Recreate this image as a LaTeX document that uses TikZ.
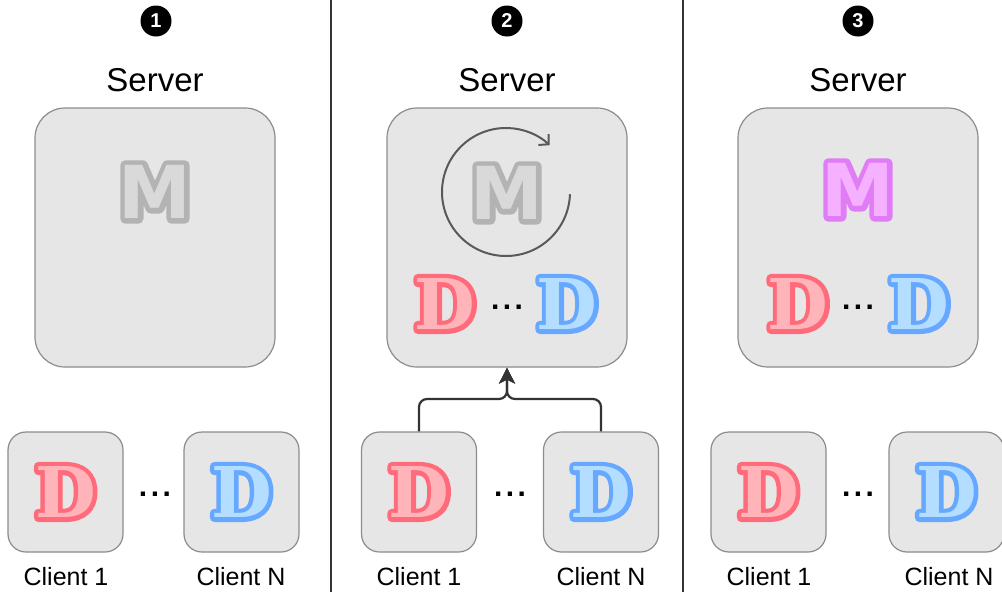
\documentclass[tikz,border=0pt]{standalone}
\usepackage{fontspec}
\setmainfont{Liberation Sans}
\newfontfamily\MfontF{DejaVu Sans}
\newfontfamily\MfontS{DejaVu Sans}[BoldFeatures={FakeBold=14}]
\newfontfamily\DfontF{DejaVu Serif}
\newfontfamily\DfontS{DejaVu Serif}[BoldFeatures={FakeBold=13}]
\usetikzlibrary{arrows.meta}
\definecolor{boxF}{HTML}{E6E6E6}
\definecolor{boxS}{HTML}{8C8C8C}
\definecolor{grayF}{HTML}{D9D9D9}
\definecolor{grayS}{HTML}{B3B3B3}
\definecolor{redF}{HTML}{FFB4BA}
\definecolor{redS}{HTML}{FF6B7B}
\definecolor{bluF}{HTML}{B4DEFF}
\definecolor{bluS}{HTML}{66A8FF}
\definecolor{pinkF}{HTML}{F5B0FF}
\definecolor{pinkS}{HTML}{E07CF5}
\definecolor{ink}{HTML}{333333}
\newcommand\LetM[2]{\rlap{\MfontS\bfseries\fontsize{73}{73}\selectfont\color{#2}M}{\MfontF\bfseries\fontsize{73}{73}\selectfont\color{#1}M}}
\newcommand\LetD[2]{\rlap{\DfontS\bfseries\fontsize{70}{70}\selectfont\color{#2}D}{\DfontF\bfseries\fontsize{70}{70}\selectfont\color{#1}D}}
\newcommand\Ellip{.\kern3.5pt.\kern3.5pt.}
\begin{document}
\begin{tikzpicture}[x=1pt,y=-1pt, line join=round,
  srv/.style={draw=boxS, fill=boxF, line width=1.2pt, rounded corners=30pt, minimum width=240pt, minimum height=259pt, inner sep=0pt},
  cli/.style={draw=boxS, fill=boxF, line width=1.2pt, rounded corners=18pt, minimum width=115pt, minimum height=120pt, inner sep=0pt},
  lett/.style={inner sep=0pt},
  title/.style={font=\fontsize{33}{33}\selectfont, inner sep=0pt},
  clab/.style={font=\fontsize{25}{25}\selectfont, inner sep=0pt},
  num/.style={circle, fill=black, minimum size=31pt, inner sep=0pt, text=white, font=\bfseries\fontsize{20}{20}\selectfont},
  dots/.style={font=\bfseries\fontsize{30}{30}\selectfont, inner sep=0pt, anchor=base},
  divider/.style={draw=ink, line width=2.6pt},
  flow/.style={draw=ink, line width=2.2pt, rounded corners=8pt},
  spin/.style={draw=black!65, line width=2pt}
]
\useasboundingbox (0,0) rectangle (1002,592);
\fill[white] (0,0) rectangle (1002,592);

% dividers
\coordinate (d1t) at (331,0); \coordinate (d1b) at (331,592);
\coordinate (d2t) at (683,0); \coordinate (d2b) at (683,592);
\draw[divider] (d1t) -- (d1b);
\draw[divider] (d2t) -- (d2b);

% numbers and titles
\node[num] (n1) at (156,21) {1};
\node[num] (n2) at (507,21) {2};
\node[num] (n3) at (858,21) {3};
\node[title] (t1) at (155,80) {Server};
\node[title] (t2) at (507,80) {Server};
\node[title] (t3) at (858,80) {Server};

% servers
\node[srv] (s1) at (155,237.5) {};
\node[srv] (s2) at (507,237.5) {};
\node[srv] (s3) at (858,237.5) {};

% panel 1
\node[lett] (m1) at (155,192) {\LetM{grayF}{grayS}};

% panel 2
\node[lett] (m2) at (507,193) {\LetM{grayF}{grayS}};
\coordinate (rc) at (506,192);
\draw[spin, -{Straight Barb[length=7pt,width=15pt]}] (rc) ++(2:64) arc[start angle=2, end angle=313, radius=64];
\node[lett] (d2a) at (445,304) {\LetD{redF}{redS}};
\node[dots] (e2) at (507,309) {\Ellip};
\node[lett] (d2b) at (567,304) {\LetD{bluF}{bluS}};

% panel 3
\node[lett] (m3) at (858,190) {\LetM{pinkF}{pinkS}};
\node[lett] (d3a) at (798,304) {\LetD{redF}{redS}};
\node[dots] (e3) at (858,309) {\Ellip};
\node[lett] (d3b) at (919,304) {\LetD{bluF}{bluS}};

% clients
\node[cli] (c11) at (65.5,492) {};
\node[cli] (c12) at (241.5,492) {};
\node[cli] (c21) at (419,492) {};
\node[cli] (c22) at (601,492) {};
\node[cli] (c31) at (768.5,492) {};
\node[cli] (c32) at (946.5,492) {};

\foreach \c in {c11,c21,c31} \node[lett] (\c d) at (\c) {\LetD{redF}{redS}};
\foreach \c in {c12,c22,c32} \node[lett] (\c d) at (\c) {\LetD{bluF}{bluS}};

\node[dots] (e1) at (155,496) {\Ellip};
\node[dots] (e21) at (510,496) {\Ellip};
\node[dots] (e31) at (858,496) {\Ellip};

\node[clab] (l11) at (66,577) {Client 1};
\node[clab] (l12) at (241,577) {Client N};
\node[clab] (l21) at (419,577) {Client 1};
\node[clab] (l22) at (601,577) {Client N};
\node[clab] (l31) at (769,577) {Client 1};
\node[clab] (l32) at (949,577) {Client N};

% aggregation arrow
\coordinate (j) at (507,399);
\draw[flow, -{Stealth[length=16pt,width=16pt,inset=4pt]}] (c21.north) |- (j) -- (s2.south);
\draw[flow, -{Stealth[length=16pt,width=16pt,inset=4pt]}] (c22.north) |- (j) -- (s2.south);
\end{tikzpicture}
\end{document}
